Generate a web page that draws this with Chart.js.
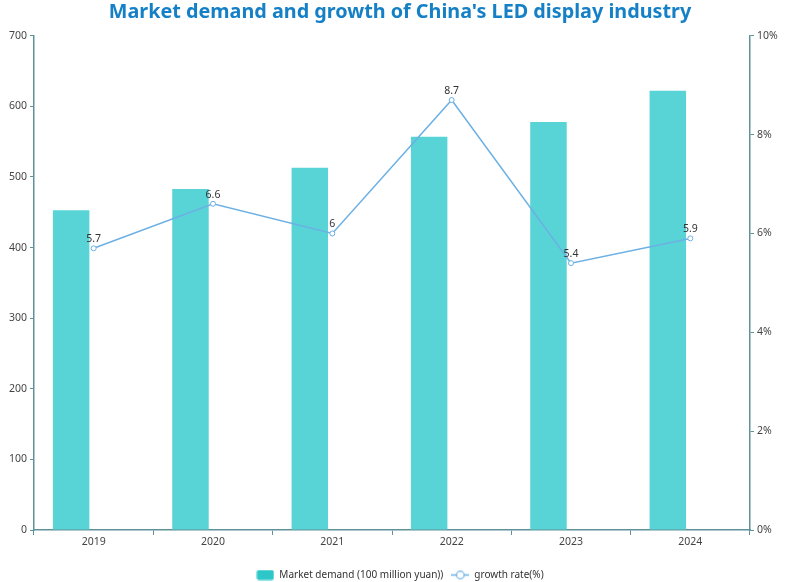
<!DOCTYPE html>
<html lang="en">

<head>
    <meta charset="UTF-8">
    <title>LED display industry</title>
    <script src="https://cdn.jsdelivr.net/npm/chart.js"></script>
    <style>
        html, body { margin: 0; padding: 0; background: #fff; }
    </style>
</head>

<body>
    <canvas id="grafico" width="800" height="582"></canvas>

    <script>
        const anos = ["2019", "2020", "2021", "2022", "2023", "2024"];
        const demanda = [453, 483, 513, 557, 578, 622];
        const crescimento = [5.7, 6.6, 6, 8.7, 5.4, 5.9];
        const vazio = [null, null, null, null, null, null];

        const corBarra = "#58d3d6";
        const corLinha = "#6cb0e4";
        const corEixo = "#5f9198";
        const corTexto = "#444";
        const fonte = "'Noto Sans', sans-serif";

        // icones da legenda (estilo echarts)
        function iconeBarra() {
            const c = document.createElement("canvas");
            c.width = 18; c.height = 11;
            const g = c.getContext("2d");
            g.fillStyle = "#2ec7c9";
            g.beginPath();
            g.roundRect(0.5, 0.5, 17, 10, 2);
            g.fill();
            return c;
        }

        function iconeLinha() {
            const c = document.createElement("canvas");
            c.width = 18; c.height = 11;
            const g = c.getContext("2d");
            g.strokeStyle = corLinha;
            g.lineWidth = 1.5;
            g.beginPath();
            g.moveTo(0, 5.5); g.lineTo(18, 5.5);
            g.stroke();
            g.fillStyle = "#fff";
            g.lineWidth = 1.2;
            g.beginPath();
            g.arc(9, 5.5, 3.8, 0, Math.PI * 2);
            g.fill();
            g.stroke();
            return c;
        }

        const rotulos = {
            id: "rotulos",
            afterDatasetsDraw(chart) {
                const meta = chart.getDatasetMeta(2);
                const ctx = chart.ctx;
                ctx.save();
                ctx.font = "10.5px " + fonte;
                ctx.fillStyle = "#333";
                ctx.textAlign = "center";
                ctx.textBaseline = "bottom";
                meta.data.forEach((p, i) => {
                    ctx.fillText(String(crescimento[i]), p.x, p.y - 4);
                });
                ctx.restore();
            }
        };

        new Chart(document.getElementById("grafico"), {
            type: "bar",
            data: {
                labels: anos,
                datasets: [{
                    label: "Market demand (100 million yuan))",
                    data: demanda,
                    backgroundColor: corBarra,
                    yAxisID: "y",
                    order: 1
                }, {
                    label: "",
                    data: vazio,
                    backgroundColor: "transparent",
                    yAxisID: "y",
                    order: 1
                }, {
                    type: "line",
                    label: "growth rate(%)",
                    data: crescimento,
                    yAxisID: "y1",
                    borderColor: corLinha,
                    borderWidth: 1.5,
                    pointRadius: 2.5,
                    pointBackgroundColor: "#fff",
                    pointBorderColor: corLinha,
                    pointBorderWidth: 1,
                    tension: 0,
                    order: 0
                }]
            },
            options: {
                responsive: false,
                animation: false,
                categoryPercentage: 0.755,
                barPercentage: 0.81,
                layout: { padding: { left: 0, right: 0, top: 0, bottom: -8 } },
                plugins: {
                    title: {
                        display: true,
                        text: "Market demand and growth of China's LED display industry",
                        color: "#1580c6",
                        font: { family: fonte, size: 19.8, weight: "bold" },
                        padding: { top: 0, bottom: 12 }
                    },
                    legend: {
                        position: "bottom",
                        labels: {
                            usePointStyle: true,
                            pointStyleWidth: 18,
                            color: "#333",
                            font: { family: fonte, size: 10 },
                            padding: 8,
                            filter: item => item.text !== "",
                            sort: (a, b) => a.datasetIndex - b.datasetIndex,
                            generateLabels(chart) {
                                const base = Chart.defaults.plugins.legend.labels.generateLabels(chart);
                                base.forEach(l => {
                                    if (l.datasetIndex === 2) l.pointStyle = iconeLinha();
                                    if (l.datasetIndex === 0) l.pointStyle = iconeBarra();
                                });
                                return base;
                            }
                        }
                    },
                    tooltip: { enabled: false }
                },
                scales: {
                    x: {
                        grid: { display: true, drawOnChartArea: false, color: corEixo, tickLength: 5 },
                        border: { color: corEixo, width: 1.5 },
                        ticks: { color: corTexto, font: { family: fonte, size: 10.5 }, padding: 1 },
                        afterFit(s) { s.height = 32; }
                    },
                    y: {
                        position: "left",
                        min: 0,
                        max: 700,
                        ticks: { stepSize: 100, color: corTexto, font: { family: fonte, size: 10.5 }, padding: 3 },
                        grid: { display: true, drawOnChartArea: false, color: corEixo, tickLength: 4 },
                        border: { color: corEixo, width: 1.5 },
                        afterFit(s) { s.width = 34; }
                    },
                    y1: {
                        position: "right",
                        min: 0,
                        max: 10,
                        ticks: { stepSize: 2, color: corTexto, font: { family: fonte, size: 10.5 }, padding: 3,
                            callback: v => v + "%" },
                        grid: { display: true, drawOnChartArea: false, color: corEixo, tickLength: 4 },
                        border: { color: corEixo, width: 1.5 },
                        afterFit(s) { s.width = 50; }
                    }
                }
            },
            plugins: [rotulos]
        });
    </script>
</body>

</html>
